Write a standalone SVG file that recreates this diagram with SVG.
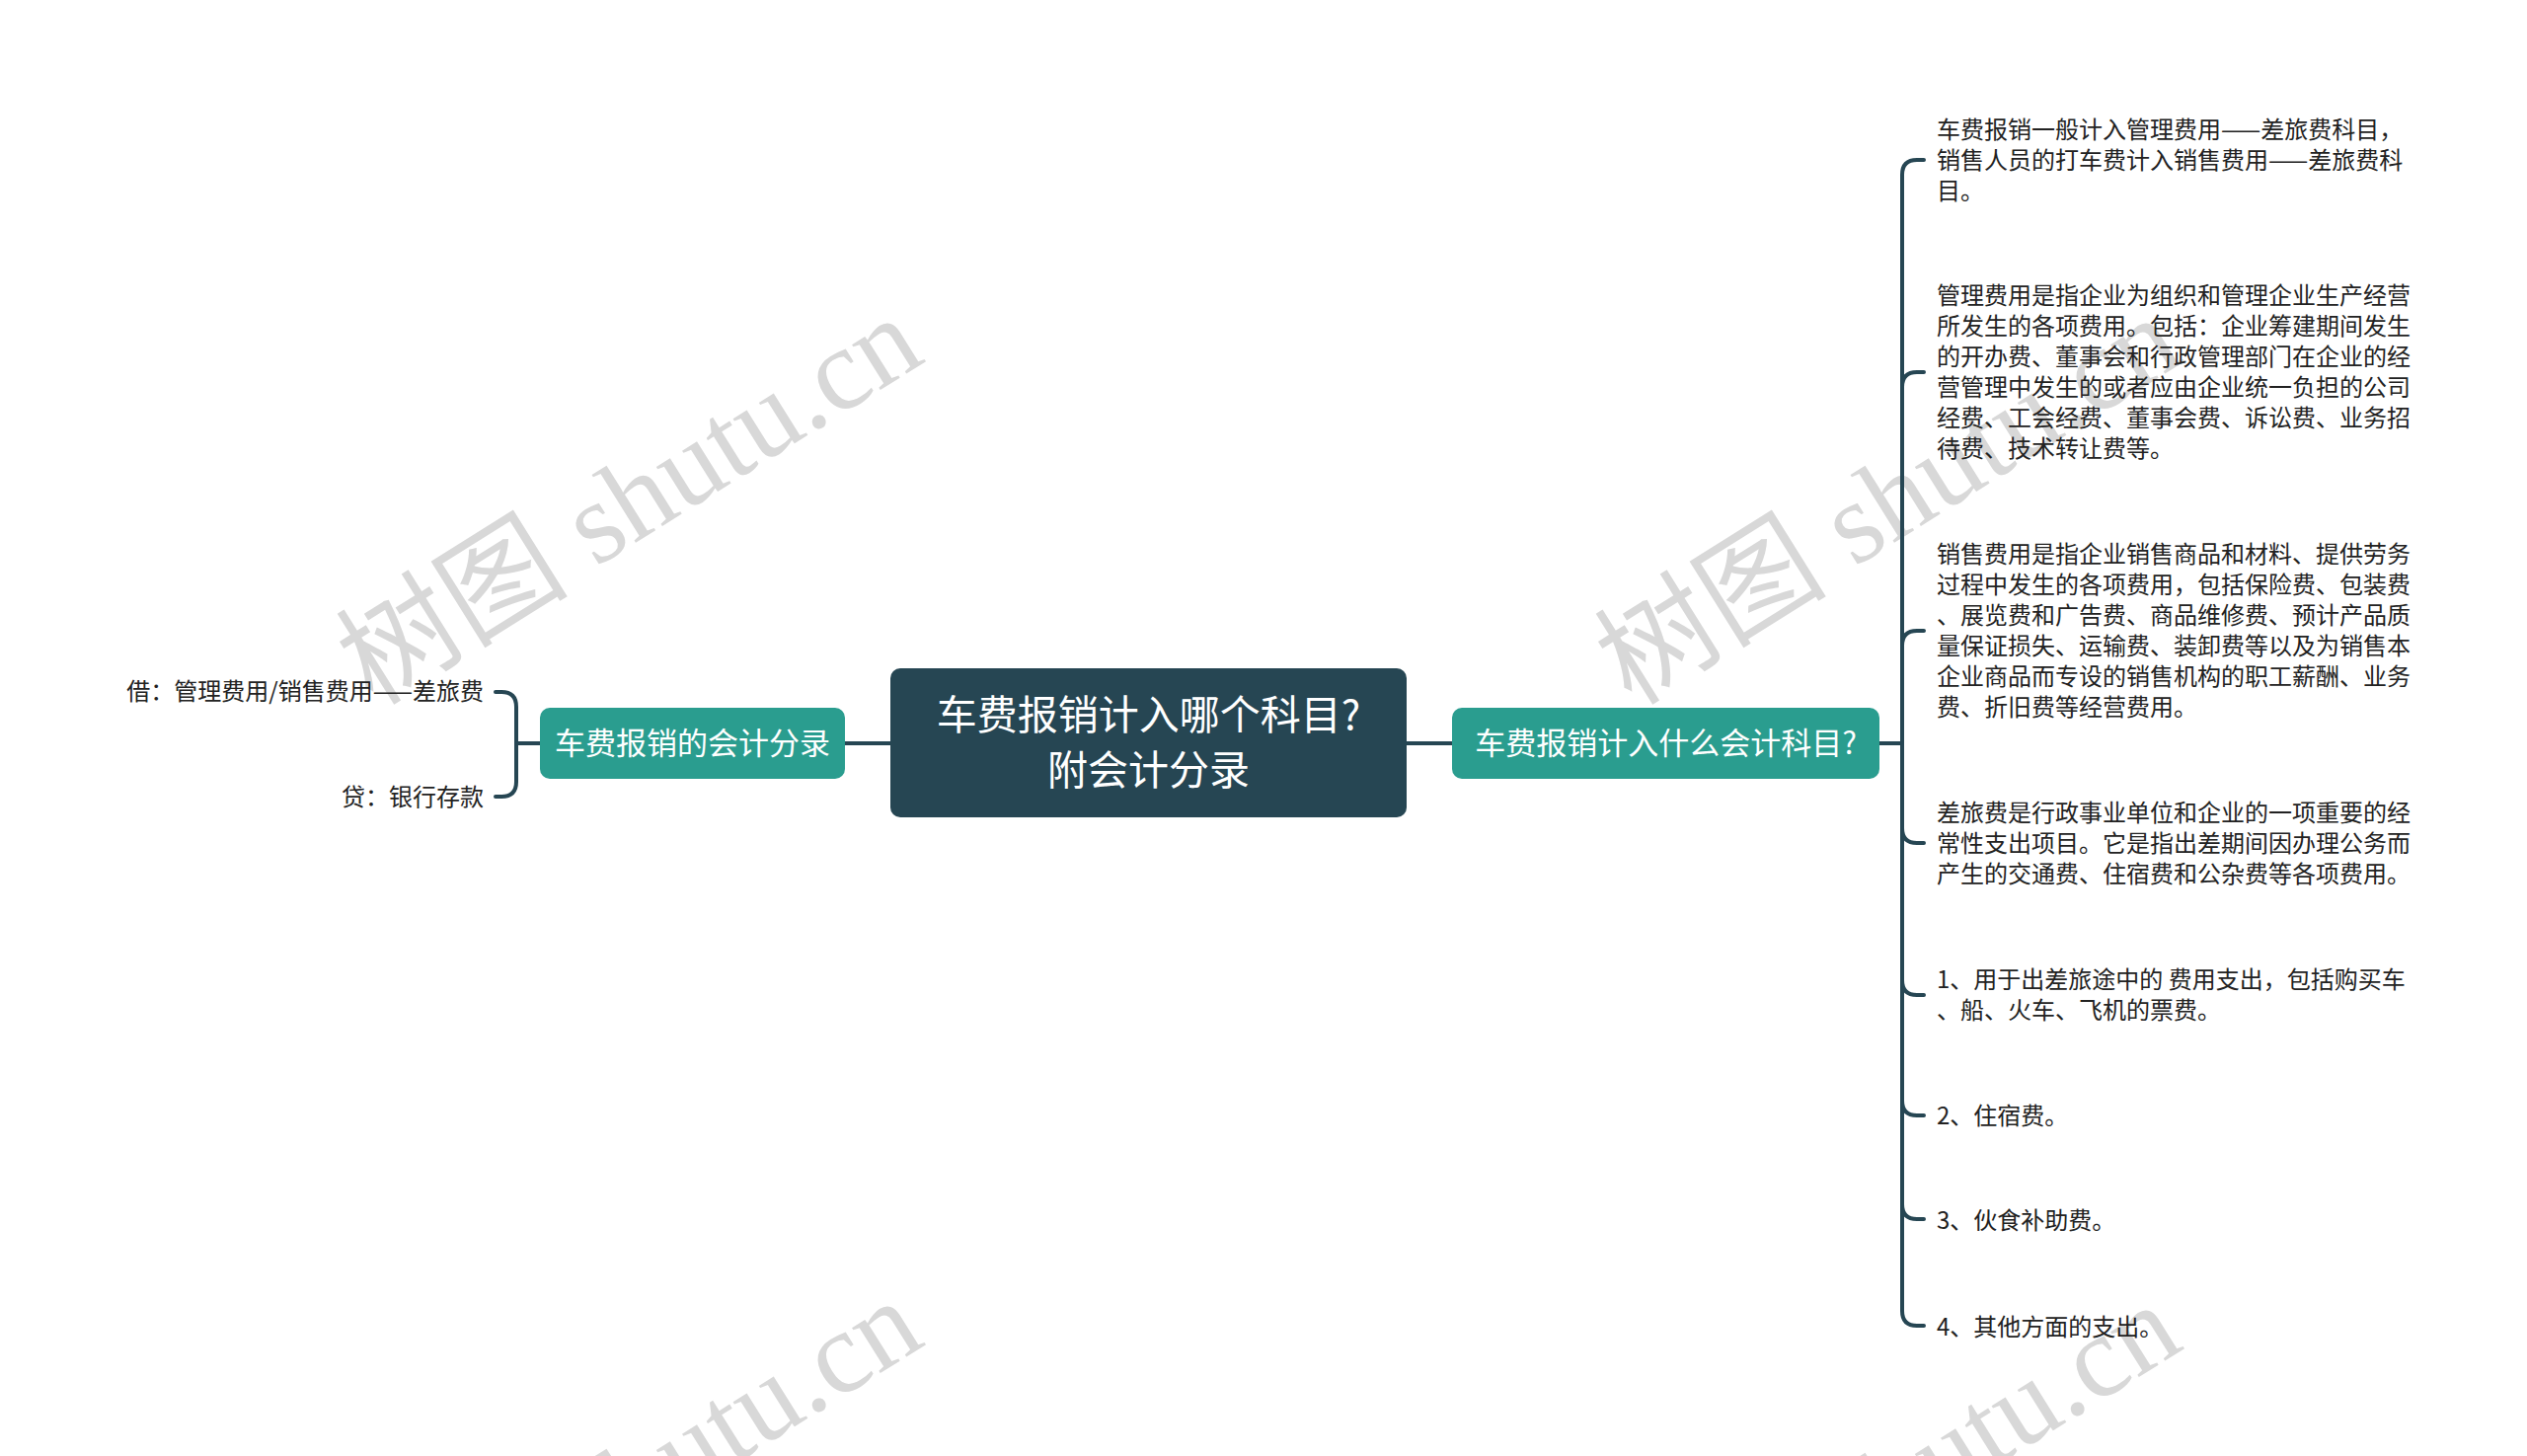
<svg xmlns="http://www.w3.org/2000/svg" width="2560" height="1475" viewBox="0 0 2560 1475">
<style>
.wm{font-family:"Liberation Serif","Noto Sans CJK SC",serif;font-size:118px;fill:#d8d8d8}
.ctr{font-family:"Noto Sans CJK SC",sans-serif;font-size:41px;fill:#ffffff;text-anchor:middle;dominant-baseline:central}
.sub{font-family:"Noto Sans CJK SC",sans-serif;font-size:31px;fill:#ffffff;text-anchor:middle;dominant-baseline:central}
.leaf{font-family:"Noto Sans CJK SC",sans-serif;font-size:24px;fill:#222222;dominant-baseline:central}
.leafL{text-anchor:end}
.conn{fill:none;stroke:#264653;stroke-width:4;stroke-linecap:round;stroke-linejoin:round}
</style>
<rect width="2560" height="1475" fill="#ffffff"/>
<g id="watermarks">
<text class="wm" transform="translate(378,716) rotate(-32)">树图 shutu.cn</text>
<text class="wm" transform="translate(1653,716) rotate(-32)">树图 shutu.cn</text>
<text class="wm" transform="translate(378,1712) rotate(-32)">树图 shutu.cn</text>
<text class="wm" transform="translate(1653,1716) rotate(-32)">树图 shutu.cn</text>
</g>
<g id="connectors">
<path class="conn" d="M856,753 H902"/>
<path class="conn" d="M1425,753 H1471"/>
<path class="conn" d="M547,753 H523 V716 Q523,701 508,701 H502"/>
<path class="conn" d="M547,753 H523 V792 Q523,807 508,807 H502"/>
<path class="conn" d="M1904,753 H1927 V177 Q1927,162 1942,162 H1949"/>
<path class="conn" d="M1904,753 H1927 V392 Q1927,377 1942,377 H1949"/>
<path class="conn" d="M1904,753 H1927 V654 Q1927,639 1942,639 H1949"/>
<path class="conn" d="M1904,753 H1927 V839 Q1927,854 1942,854 H1949"/>
<path class="conn" d="M1904,753 H1927 V993 Q1927,1008 1942,1008 H1949"/>
<path class="conn" d="M1904,753 H1927 V1115 Q1927,1130 1942,1130 H1949"/>
<path class="conn" d="M1904,753 H1927 V1220 Q1927,1235 1942,1235 H1949"/>
<path class="conn" d="M1904,753 H1927 V1328 Q1927,1343 1942,1343 H1949"/>
</g>
<g id="root">
<rect x="902" y="677" width="523" height="151" rx="10" fill="#264653"/>
<text class="ctr" x="1163.5" y="721">车费报销计入哪个科目?</text>
<text class="ctr" x="1163.5" y="777">附会计分录</text>
</g>
<g id="node-left">
<rect x="547" y="717" width="309" height="72" rx="10" fill="#2a9d8f"/>
<text class="sub" x="701.5" y="750">车费报销的会计分录</text>
</g>
<g id="node-right">
<rect x="1471" y="717" width="433" height="72" rx="10" fill="#2a9d8f"/>
<text class="sub" x="1687.5" y="750">车费报销计入什么会计科目?</text>
</g>
<g id="leaf-l1"><text class="leaf leafL" x="490" y="698">借：管理费用/销售费用——差旅费</text></g>
<g id="leaf-l2"><text class="leaf leafL" x="490" y="805">贷：银行存款</text></g>
<g id="leaf-r1">
<text class="leaf" x="1962" y="129">车费报销一般计入管理费用——差旅费科目，</text>
<text class="leaf" x="1962" y="160">销售人员的打车费计入销售费用——差旅费科</text>
<text class="leaf" x="1962" y="191">目。</text>
</g>
<g id="leaf-r2">
<text class="leaf" x="1962" y="297">管理费用是指企业为组织和管理企业生产经营</text>
<text class="leaf" x="1962" y="328">所发生的各项费用。包括：企业筹建期间发生</text>
<text class="leaf" x="1962" y="359">的开办费、董事会和行政管理部门在企业的经</text>
<text class="leaf" x="1962" y="390">营管理中发生的或者应由企业统一负担的公司</text>
<text class="leaf" x="1962" y="421">经费、工会经费、董事会费、诉讼费、业务招</text>
<text class="leaf" x="1962" y="452">待费、技术转让费等。</text>
</g>
<g id="leaf-r3">
<text class="leaf" x="1962" y="559">销售费用是指企业销售商品和材料、提供劳务</text>
<text class="leaf" x="1962" y="590">过程中发生的各项费用，包括保险费、包装费</text>
<text class="leaf" x="1962" y="621">、展览费和广告费、商品维修费、预计产品质</text>
<text class="leaf" x="1962" y="652">量保证损失、运输费、装卸费等以及为销售本</text>
<text class="leaf" x="1962" y="683">企业商品而专设的销售机构的职工薪酬、业务</text>
<text class="leaf" x="1962" y="714">费、折旧费等经营费用。</text>
</g>
<g id="leaf-r4">
<text class="leaf" x="1962" y="821">差旅费是行政事业单位和企业的一项重要的经</text>
<text class="leaf" x="1962" y="852">常性支出项目。它是指出差期间因办理公务而</text>
<text class="leaf" x="1962" y="883">产生的交通费、住宿费和公杂费等各项费用。</text>
</g>
<g id="leaf-r5">
<text class="leaf" x="1962" y="990">1、用于出差旅途中的 费用支出，包括购买车</text>
<text class="leaf" x="1962" y="1021">、船、火车、飞机的票费。</text>
</g>
<g id="leaf-r6"><text class="leaf" x="1962" y="1128">2、住宿费。</text></g>
<g id="leaf-r7"><text class="leaf" x="1962" y="1234">3、伙食补助费。</text></g>
<g id="leaf-r8"><text class="leaf" x="1962" y="1342">4、其他方面的支出。</text></g>
</svg>
